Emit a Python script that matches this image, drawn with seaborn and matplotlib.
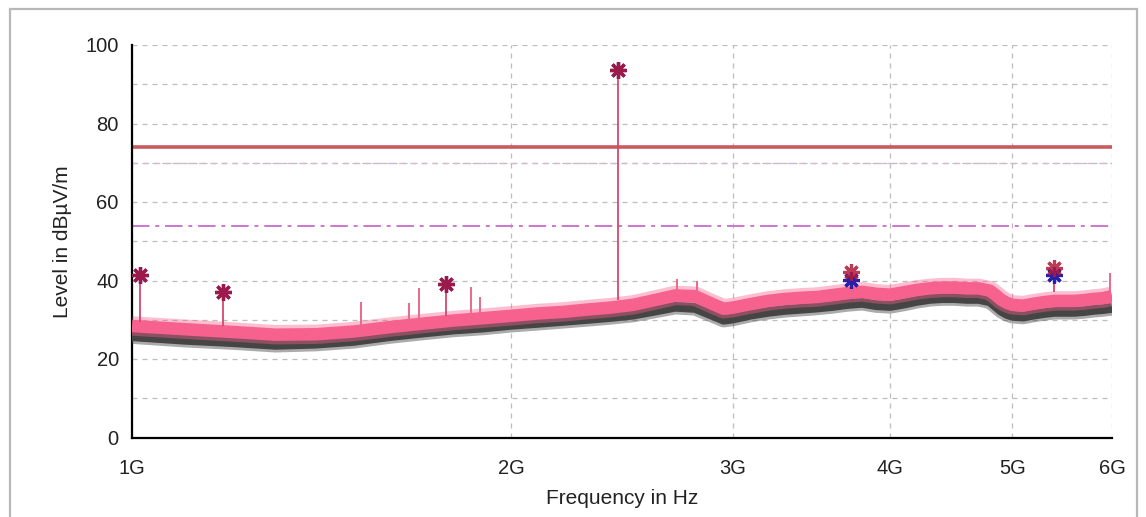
import numpy as np
import pandas as pd
import matplotlib
matplotlib.use("Agg")
import matplotlib.pyplot as plt
import seaborn as sns
from matplotlib.patches import Rectangle
from matplotlib.ticker import FixedLocator, NullLocator, MultipleLocator

# ---------------- data ----------------
freq_ghz = [1.0, 1.1, 1.2, 1.3, 1.4, 1.5, 1.6, 1.7, 1.8, 1.9, 2.0, 2.1, 2.2, 2.3,
            2.4, 2.5, 2.6, 2.7, 2.8, 2.9, 2.95, 3.0, 3.1, 3.2, 3.3, 3.4, 3.5, 3.6,
            3.7, 3.8, 3.9, 4.0, 4.1, 4.2, 4.3, 4.4, 4.5, 4.6, 4.7, 4.8, 4.85, 4.9,
            4.95, 5.0, 5.1, 5.2, 5.3, 5.4, 5.5, 5.6, 5.7, 5.8, 5.9, 6.0]
avg_level = [25.8, 24.9, 24.3, 23.6, 23.9, 24.6, 25.8, 26.7, 27.5, 28.0, 28.7, 29.2,
             29.7, 30.2, 30.7, 31.3, 32.3, 33.3, 33.0, 31.0, 30.0, 30.3, 31.3, 32.0,
             32.5, 32.8, 33.1, 33.5, 34.0, 34.3, 33.7, 33.5, 34.1, 34.8, 35.3, 35.5,
             35.5, 35.3, 35.3, 34.7, 33.5, 32.3, 31.5, 31.0, 30.8, 31.3, 31.7, 32.0,
             32.0, 32.0, 32.2, 32.5, 32.7, 33.0]
peak_level = [28.4, 27.6, 26.9, 26.2, 26.3, 27.0, 28.1, 29.0, 29.8, 30.4, 31.0, 31.6,
              32.0, 32.6, 33.1, 33.8, 35.0, 36.2, 36.0, 33.8, 32.8, 33.1, 34.0, 34.8,
              35.3, 35.6, 35.8, 36.3, 36.8, 37.1, 36.6, 36.4, 37.0, 37.6, 38.0, 38.2,
              38.2, 38.0, 38.0, 37.4, 36.3, 35.1, 34.3, 33.8, 33.6, 34.1, 34.5, 34.8,
              34.8, 34.8, 35.0, 35.3, 35.5, 36.0]

spike_ghz = [1.52, 1.66, 1.69, 1.86, 1.89, 2.71, 2.81, 5.98]
spike_base = [28.5, 29.5, 29.8, 31.5, 31.8, 37.0, 37.0, 37.0]
spike_top = [34.6, 34.3, 38.0, 38.3, 35.9, 40.5, 40.0, 42.0]

marker_ghz = [1.015, 1.18, 1.775, 2.43, 3.72, 5.40]
marker_base = [29.5, 28.5, 31.0, 35.0, 38.0, 37.0]
marker_peak = [41.4, 37.1, 39.1, 93.6, 42.2, 43.1]
marker_avg = [41.4, 37.1, 39.1, 93.6, 40.1, 41.4]

limit_peak = 74
limit_avg = 54
limit_aux = 70

xtick_ghz = [1, 2, 3, 4, 5, 6]
xtick_labels = ["1G", "2G", "3G", "4G", "5G", "6G"]
ytick_values = [0, 20, 40, 60, 80, 100]

# ---------------- figure ----------------
sns.set_theme(style="white")
plt.rcParams["font.family"] = ["Liberation Sans", "DejaVu Sans"]

W, H = 1146, 517
fig = plt.figure(figsize=(W / 100, H / 100), dpi=100)
fig.patch.set_facecolor("white")
ax = fig.add_axes([132 / W, 1 - 437.5 / H, (1112 - 132) / W, (437.5 - 45) / H])
ax.set_facecolor("white")

df = pd.DataFrame({
    "freq": np.array(freq_ghz) * 1e9,
    "avg": avg_level,
    "peak": peak_level,
})

pink = "#f7618e"
gray = "#454545"
lk = dict(solid_capstyle="butt", solid_joinstyle="round")

# soft halos (noise fringe) then cores
sns.lineplot(data=df, x="freq", y="avg", ax=ax, color=gray, lw=11, alpha=0.45,
             zorder=3, **lk)
sns.lineplot(data=df, x="freq", y="avg", ax=ax, color=gray, lw=7, zorder=3, **lk)
sns.lineplot(data=df, x="freq", y="peak", ax=ax, color=pink, lw=14, alpha=0.4,
             zorder=4, **lk)
sns.lineplot(data=df, x="freq", y="peak", ax=ax, color=pink, lw=9, zorder=4, **lk)

# small spikes in peak trace
ax.vlines(np.array(spike_ghz) * 1e9, spike_base, spike_top, color="#e76a8c",
          lw=1.4, zorder=4)

# marker stems
mf = np.array(marker_ghz) * 1e9
ax.vlines(mf, marker_base, marker_peak, color="#d9476a", lw=1.3, zorder=5)

# markers (avg = blue, peak = red on top)
ast = (8, 2, 0)
ax.plot(mf, marker_avg, ls="none", marker=ast, ms=12, mew=2.3,
        color="#2a1fa8", zorder=6)
ax.plot(mf, marker_peak, ls="none", marker=ast, ms=12, mew=2.3,
        color="#b01a3a", alpha=0.85, zorder=7)

# limit lines
ax.axhline(limit_peak, color="#c95a5e", lw=2.6, zorder=2)
ax.axhline(limit_avg, color="#cc77cc", lw=1.4, ls=(0, (9, 3, 2, 3)), zorder=2)
ax.axhline(limit_aux, color="#d9b6d4", lw=1.0, ls=(0, (4, 4)), zorder=2)

# axes, ticks, grid
ax.set_xscale("log")
ax.set_xlim(1e9, 6e9)
ax.set_ylim(0, 100)
ax.xaxis.set_major_locator(FixedLocator([v * 1e9 for v in xtick_ghz]))
ax.xaxis.set_minor_locator(NullLocator())
ax.set_xticklabels(xtick_labels)
ax.yaxis.set_major_locator(FixedLocator(ytick_values))
ax.yaxis.set_minor_locator(MultipleLocator(10))

gridkw = dict(color="#bdbdbd", lw=0.9, ls=(0, (4, 4)))
ax.grid(True, which="major", axis="x", **gridkw)
ax.grid(True, which="both", axis="y", **gridkw)
ax.set_axisbelow(True)

ax.tick_params(axis="both", which="both", direction="inout", length=11,
               width=1.5, colors="black", labelsize=14.5, labelcolor="#222222")
ax.tick_params(axis="x", pad=10)
ax.tick_params(axis="y", pad=4)

for s in ["top", "right"]:
    ax.spines[s].set_visible(False)
for s in ["left", "bottom"]:
    ax.spines[s].set_color("black")
    ax.spines[s].set_linewidth(1.6)

ax.set_xlabel("Frequency in Hz", fontsize=15, color="#222222", labelpad=8)
ax.set_ylabel("Level in dBµV/m", fontsize=15, color="#222222", labelpad=10)

# outer frame
fig.add_artist(Rectangle((10 / W, -0.05), (1137 - 10) / W, 1.05 - 9 / H,
                         transform=fig.transFigure, fill=False,
                         ec="#b8b8b8", lw=1.6))

fig.savefig("out.png", dpi=100)
